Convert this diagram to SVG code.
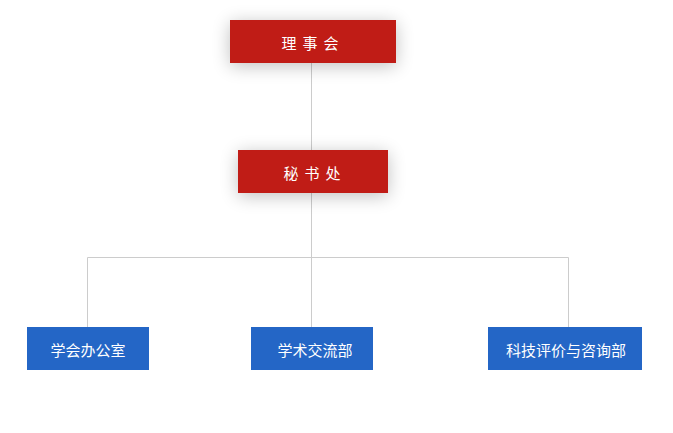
<svg xmlns="http://www.w3.org/2000/svg" width="673" height="433" viewBox="0 0 673 433">
<style>
.red{fill:#c01b16;filter:url(#sh)}
.blue{fill:#2466c6}
.t{font-family:"Noto Sans CJK SC",sans-serif;font-size:15px;fill:#fff;text-anchor:middle;dominant-baseline:central}
.ln{stroke:#cccccc;stroke-width:1;fill:none}
</style>
<defs>
<filter id="sh" x="-40%" y="-80%" width="180%" height="260%">
<feGaussianBlur in="SourceAlpha" stdDeviation="9"/>
<feOffset dy="3"/>
<feComponentTransfer><feFuncA type="linear" slope="0.25"/></feComponentTransfer>
<feMerge><feMergeNode/><feMergeNode in="SourceGraphic"/></feMerge>
</filter>
</defs>
<rect width="673" height="433" fill="#fff"/>
<g id="connectors">
<path class="ln" d="M311.5 63V150M311.5 193V327M87.5 327V257.5H568.5V327"/>
</g>
<g id="n1"><rect class="red" x="230" y="20" width="166" height="43"/><text class="t" x="313" y="42" letter-spacing="6">理事会</text></g>
<g id="n2"><rect class="red" x="238" y="150" width="150" height="43"/><text class="t" x="315" y="172" letter-spacing="6">秘书处</text></g>
<g id="n3"><rect class="blue" x="27" y="327" width="122" height="43"/><text class="t" x="88" y="349">学会办公室</text></g>
<g id="n4"><rect class="blue" x="251" y="327" width="122" height="43"/><text class="t" x="315" y="349">学术交流部</text></g>
<g id="n5"><rect class="blue" x="488" y="327" width="154" height="43"/><text class="t" x="566" y="349">科技评价与咨询部</text></g>
</svg>
